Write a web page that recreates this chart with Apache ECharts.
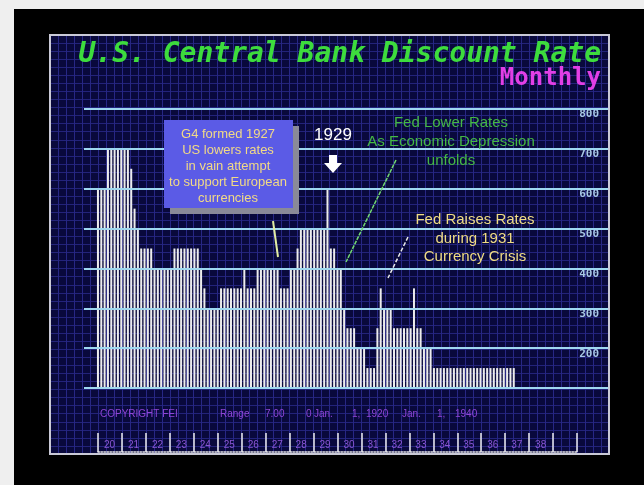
<!DOCTYPE html>
<html><head><meta charset="utf-8">
<script src="https://cdn.jsdelivr.net/npm/echarts@6/dist/echarts.min.js"></script>
<style>html,body{margin:0;padding:0;background:#efefef;}#c{width:644px;height:485px;}</style>
</head><body><div id="c"></div>
<script>
// Discount rate (x100) for each visible bar, Jan 1920 onward
const barValues = [
  600,600,600,
  700,700,700,700,700,700,700,
  650,550,500,
  450,450,450,450,
  400,400,400,400,400,400,
  450,450,450,450,450,450,450,450,
  400,350,
  300,300,300,300,
  350,350,350,350,350,350,350,
  400,
  350,350,350,
  400,400,400,400,400,400,400,
  350,350,350,
  400,400,
  450,
  500,500,500,500,500,500,500,500,
  600,
  450,450,
  400,400,
  300,
  250,250,250,
  200,200,200,
  150,150,150,
  250,
  350,
  300,300,300,
  250,250,250,250,250,250,
  350,
  250,250,
  200,200,200,
  150,150,150,150,150,150,150,150,150,150,150,150,150,150,150,150,150,150,150,150,150,150,150,150,150
];
const slotCount = 144; // bar slots spanning 1920..1940
const gridLevels = [100,200,300,400,500,600,700,800];
const yTickLabels = ['','200','300','400','500','600','700','800'];
const yearLabels = ['20','21','22','23','24','25','26','27','28','29','30','31','32','33','34','35','36','37','38'];
const titleText = 'U.S. Central Bank Discount Rate';
const subTitle = 'Monthly';
const boxLines = ['G4 formed 1927','US lowers rates','in vain attempt','to support European','currencies'];
const fedLowerLines = ['Fed Lower Rates','As Economic Depression','unfolds'];
const fedRaiseLines = ['Fed Raises Rates','during 1931','Currency Crisis'];

const chart = echarts.init(document.getElementById('c'), null, {renderer:'canvas'});
const slots = Array.from({length: slotCount}, (_, i) => String(i));

const g = [];
// page/panel backgrounds
g.push({type:'rect', z:-100, shape:{x:14,y:9,width:630,height:476}, style:{fill:'#000'}});
g.push({type:'rect', z:-99, shape:{x:50,y:35,width:559,height:419}, style:{fill:'#09093c'}});
g.push({type:'rect', z:60, shape:{x:50,y:35,width:559,height:419}, style:{fill:null, stroke:'#c9c9d6', lineWidth:2}});
// title
g.push({type:'text', z:100, style:{text:titleText, x:601, y:55, textAlign:'right', textVerticalAlign:'middle', font:'italic bold 28px "DejaVu Sans Mono"', fill:'#3ddc3d'}});
g.push({type:'text', z:100, style:{text:subTitle, x:601, y:79, textAlign:'right', textVerticalAlign:'middle', font:'bold 24px "DejaVu Sans Mono"', fill:'#e23fe6'}});
// blue box annotation
g.push({type:'rect', z:100, shape:{x:170,y:126,width:129,height:88}, style:{fill:'#8a8a98'}});
g.push({type:'rect', z:101, shape:{x:164,y:120,width:129,height:88}, style:{fill:'#5b5be6'}});
boxLines.forEach((t,i)=>{
  g.push({type:'text', z:102, style:{text:t, x:228, y:134+i*16, textAlign:'center', textVerticalAlign:'middle', font:'13px "Liberation Sans"', fill:'#f2da86', shadowColor:'#2a2030', shadowOffsetX:1, shadowOffsetY:1, shadowBlur:0}});
});
g.push({type:'line', z:100, shape:{x1:273,y1:221,x2:278,y2:257}, style:{stroke:'#e2eca2', lineWidth:2}});
// 1929 arrow
g.push({type:'text', z:100, style:{text:'1929', x:333, y:135, textAlign:'center', textVerticalAlign:'middle', font:'17px "Liberation Sans"', fill:'#ffffff'}});
g.push({type:'polygon', z:100, shape:{points:[[329,155],[337,155],[337,163],[342,163],[333,173],[324,163],[329,163]]}, style:{fill:'#ffffff'}});
// Fed lower rates
fedLowerLines.forEach((t,i)=>{
  g.push({type:'text', z:100, style:{text:t, x:451, y:123+i*19, textAlign:'center', textVerticalAlign:'middle', font:'15px "Liberation Sans"', fill:'#45b845'}});
});
g.push({type:'line', z:100, shape:{x1:396,y1:160,x2:346,y2:262}, style:{stroke:'#72d872', lineWidth:1.5, lineDash:[4,1]}});
// Fed raises rates
fedRaiseLines.forEach((t,i)=>{
  g.push({type:'text', z:100, style:{text:t, x:475, y:220+i*18.5, textAlign:'center', textVerticalAlign:'middle', font:'15px "Liberation Sans"', fill:'#f0dc84'}});
});
g.push({type:'line', z:100, shape:{x1:408,y1:237,x2:388,y2:278}, style:{stroke:'#e8e8e8', lineWidth:1.5, lineDash:[4,2]}});
// footer text
const footer = [['COPYRIGHT FEI',100],['Range',220],['7.00',265],['0',306],['Jan.',314],['1,',352],['1920',366],['Jan.',402],['1,',437],['1940',455]];
footer.forEach(([t,x])=>{
  g.push({type:'text', z:100, style:{text:t, x:x, y:414, textAlign:'left', textVerticalAlign:'middle', font:'10px "Liberation Sans"', fill:'#8f45d6'}});
});

const option = {
  backgroundColor:'#efefef',
  animation:false,
  grid:[
    {left:50, right:35, top:35, bottom:31},
    {left:96.3, right:68.7, top:109, bottom:97},
    {left:84, right:35, top:109, bottom:97},
    {left:98, right:67, top:420, bottom:33}
  ],
  xAxis:[
    {gridIndex:0, type:'value', min:0, max:70, interval:1, axisLine:{show:false}, axisTick:{show:false}, axisLabel:{show:false}, splitLine:{show:true, lineStyle:{color:'#272785', width:1}}},
    {gridIndex:1, type:'category', data:slots, boundaryGap:true, show:false},
    {gridIndex:2, type:'value', min:0, max:1, show:false},
    {gridIndex:3, type:'value', min:1920, max:1940, interval:1,
      axisLine:{show:true, lineStyle:{color:'#e6e6e6', width:1.5, type:'dotted'}},
      axisTick:{show:true, inside:true, length:19, lineStyle:{color:'#eeeeee', width:1.5}},
      axisLabel:{show:true, inside:true, margin:2, align:'left', padding:[0,0,0,6], fontSize:10, color:'#8a55d2', fontFamily:'Liberation Sans',
        formatter:(v)=> (yearLabels[Math.round(v)-1920] ?? '')},
      splitLine:{show:false}}
  ],
  yAxis:[
    {gridIndex:0, type:'value', min:0, max:52, interval:1, axisLine:{show:false}, axisTick:{show:false}, axisLabel:{show:false}, splitLine:{show:true, lineStyle:{color:'#23237a', width:1}}},
    {gridIndex:1, type:'value', min:100, max:800, show:false},
    {gridIndex:2, type:'value', min:100, max:800, interval:100, position:'right',
      axisLine:{show:false}, axisTick:{show:false}, splitLine:{show:false},
      axisLabel:{show:true, inside:true, margin:10, verticalAlign:'top', fontSize:11, fontWeight:'bold', color:'#a8c8e6', fontFamily:'DejaVu Sans Mono',
        formatter:(v)=> (yTickLabels[gridLevels.indexOf(v)] ?? '')}},
    {gridIndex:3, type:'value', show:false}
  ],
  series:[
    {type:'bar', xAxisIndex:1, yAxisIndex:1, data:barValues, barWidth:2, z:3,
      itemStyle:{color:'#ececec'}},
    {type:'line', xAxisIndex:2, yAxisIndex:2, data:[], z:10, silent:true,
      markLine:{silent:true, symbol:['none','none'], label:{show:false}, z:10,
        lineStyle:{color:'#9fd8ef', width:2, type:'solid'},
        data: gridLevels.map(v=>({yAxis:v}))}}
  ],
  graphic: g
};
chart.setOption(option);
</script>
</body></html>
